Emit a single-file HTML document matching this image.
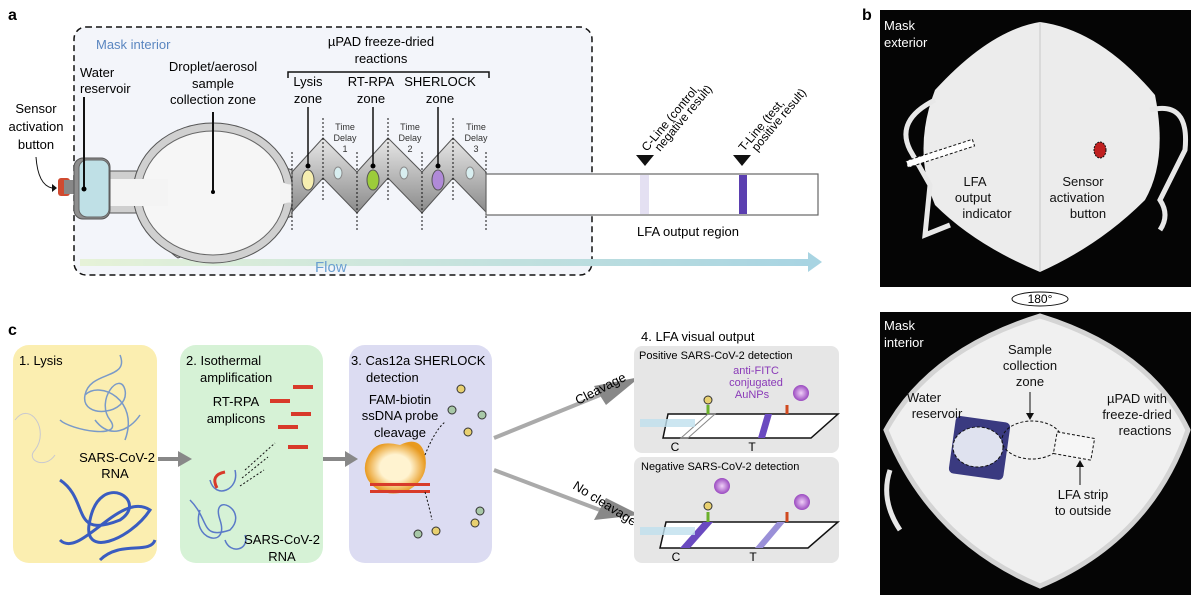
<!DOCTYPE html>
<html><head><meta charset="utf-8"><style>
html,body{margin:0;padding:0;background:#fff;}
svg{display:block;font-family:"Liberation Sans",sans-serif;}
</style></head><body>
<svg width="1200" height="607" viewBox="0 0 1200 607" xmlns="http://www.w3.org/2000/svg">
<defs>
<linearGradient id="flow" x1="0" x2="1"><stop offset="0" stop-color="#e6f2d8"/><stop offset="1" stop-color="#a8d4e2"/></linearGradient>
<linearGradient id="zz" x1="0" y1="0" x2="0" y2="1"><stop offset="0" stop-color="#e8e8e8"/><stop offset="1" stop-color="#8a8a8a"/></linearGradient>
<radialGradient id="np"><stop offset="0" stop-color="#f0d0f8"/><stop offset="1" stop-color="#9a4ac0"/></radialGradient>
<radialGradient id="cas"><stop offset="0.5" stop-color="#fff3d0"/><stop offset="1" stop-color="#e89a20"/></radialGradient>
</defs>

<!-- Panel a -->
<text x="8" y="20" font-size="16" font-weight="bold">a</text>
<rect x="74" y="27" width="518" height="248" rx="12" fill="#f3f5fa" stroke="#111" stroke-width="1.5" stroke-dasharray="6,4"/>
<rect x="80" y="259" width="730" height="7" fill="url(#flow)"/>
<polygon points="808,252 822,262 808,272" fill="#a8d4e2"/>
<text x="315" y="272" font-size="15" fill="#6a9fd0">Flow</text>
<text x="96" y="49" font-size="13" fill="#5a86c0">Mask interior</text>
<text x="80" y="77" font-size="13">Water</text>
<text x="80" y="93" font-size="13">reservoir</text>
<text x="36" y="113" font-size="13" text-anchor="middle">Sensor</text>
<text x="36" y="131" font-size="13" text-anchor="middle">activation</text>
<text x="36" y="149" font-size="13" text-anchor="middle">button</text>
<path d="M36,157 Q38,185 52,188" fill="none" stroke="#111" stroke-width="1"/>
<polygon points="52,184 57,188 52,192" fill="#111"/>
<text x="213" y="71" font-size="13" text-anchor="middle">Droplet/aerosol</text>
<text x="213" y="88" font-size="13" text-anchor="middle">sample</text>
<text x="213" y="104" font-size="13" text-anchor="middle">collection zone</text>
<text x="381" y="46" font-size="13" text-anchor="middle">µPAD freeze-dried</text>
<text x="381" y="63" font-size="13" text-anchor="middle">reactions</text>
<path d="M288,78 V72 H489 V78" fill="none" stroke="#111" stroke-width="1.5"/>
<text x="308" y="86" font-size="13" text-anchor="middle">Lysis</text>
<text x="308" y="103" font-size="13" text-anchor="middle">zone</text>
<text x="371" y="86" font-size="13" text-anchor="middle">RT-RPA</text>
<text x="371" y="103" font-size="13" text-anchor="middle">zone</text>
<text x="440" y="86" font-size="13" text-anchor="middle">SHERLOCK</text>
<text x="440" y="103" font-size="13" text-anchor="middle">zone</text>
<g font-size="9" text-anchor="middle" fill="#333">
<text x="345" y="130">Time</text><text x="345" y="141">Delay</text><text x="345" y="152">1</text>
<text x="410" y="130">Time</text><text x="410" y="141">Delay</text><text x="410" y="152">2</text>
<text x="476" y="130">Time</text><text x="476" y="141">Delay</text><text x="476" y="152">3</text>
</g>
<!-- device -->
<rect x="58" y="178" width="12" height="18" rx="3" fill="#d04a30"/>
<rect x="64" y="180" width="10" height="14" fill="#888"/>
<path d="M108,171 H153 Q160,145 178,130 L292,170 L292,216 L178,258 Q158,245 153,213 H108 Z" fill="#cfcfcf" stroke="#555" stroke-width="1"/>
<ellipse cx="213" cy="193" rx="80" ry="70" fill="#d0d0d0" stroke="#555"/>
<ellipse cx="213" cy="193" rx="72" ry="62" fill="#f6f6f6" stroke="#666"/>
<rect x="108" y="179" width="60" height="27" fill="#f4f4f4"/>
<path d="M280,180 Q286,186 296,184 V204 Q286,200 280,207 Z" fill="#f4f4f4"/>
<rect x="74" y="158" width="36" height="61" rx="9" fill="#8e8e8e" stroke="#555"/>
<rect x="79" y="160" width="30" height="57" rx="8" fill="#bfe0e6" stroke="#666"/>
<line x1="84" y1="97" x2="84" y2="189" stroke="#111" stroke-width="2"/><circle cx="84" cy="189" r="2.5"/>
<line x1="213" y1="112" x2="213" y2="192" stroke="#111" stroke-width="2"/><circle cx="213" cy="192" r="2"/>
<polygon points="292,172 323,138 357,172 388,138 422,172 453,138 486,172 486,212 453,178 422,213 388,178 357,213 323,178 292,212" fill="url(#zz)" stroke="#555"/>
<g stroke="#111" stroke-dasharray="2,2" stroke-width="1">
<line x1="292" y1="152" x2="292" y2="232"/><line x1="323" y1="118" x2="323" y2="200"/>
<line x1="357" y1="152" x2="357" y2="232"/><line x1="388" y1="118" x2="388" y2="200"/>
<line x1="422" y1="152" x2="422" y2="232"/><line x1="453" y1="118" x2="453" y2="200"/>
<line x1="486" y1="152" x2="486" y2="232"/></g>
<ellipse cx="308" cy="180" rx="6" ry="10" fill="#f6eeb0" stroke="#555"/>
<ellipse cx="338" cy="173" rx="4" ry="6" fill="#d8eef0" stroke="#888"/>
<ellipse cx="373" cy="180" rx="6" ry="10" fill="#9ccc3a" stroke="#555"/>
<ellipse cx="404" cy="173" rx="4" ry="6" fill="#d8eef0" stroke="#888"/>
<ellipse cx="438" cy="180" rx="6" ry="10" fill="#b08ad8" stroke="#555"/>
<ellipse cx="470" cy="173" rx="4" ry="6" fill="#d8eef0" stroke="#888"/>
<g stroke="#111" stroke-width="1.5"><line x1="308" y1="107" x2="308" y2="166"/><line x1="373" y1="107" x2="373" y2="166"/><line x1="438" y1="107" x2="438" y2="166"/></g>
<circle cx="308" cy="166" r="2.5"/><circle cx="373" cy="166" r="2.5"/><circle cx="438" cy="166" r="2.5"/>
<rect x="486" y="174" width="332" height="41" fill="#fff" stroke="#666" stroke-width="1.2"/>
<rect x="640" y="175" width="9" height="39" fill="#e4e0f2"/>
<rect x="739" y="175" width="8" height="39" fill="#5b3fb0"/>
<polygon points="636,155 654,155 645,166" fill="#111"/>
<polygon points="733,155 751,155 742,166" fill="#111"/>
<text transform="translate(647,152) rotate(-50)" font-size="12">C-Line (control,</text>
<text transform="translate(660,152) rotate(-50)" font-size="12">negative result)</text>
<text transform="translate(744,152) rotate(-50)" font-size="12">T-Line (test,</text>
<text transform="translate(757,152) rotate(-50)" font-size="12">positive result)</text>
<text x="688" y="236" font-size="13" text-anchor="middle">LFA output region</text>

<!-- Panel b -->
<text x="862" y="20" font-size="16" font-weight="bold">b</text>
<rect x="880" y="10" width="311" height="277" fill="#050505"/>
<path d="M935,90 Q990,30 1040,22 Q1100,30 1155,95 Q1168,160 1145,200 Q1100,245 1040,272 Q975,245 935,205 Q912,150 935,90 Z" fill="#ececec"/>
<path d="M1040,22 L1040,272" stroke="#c8c8c8"/>
<path d="M935,100 Q895,120 910,150 L930,185 L925,235 L950,225" fill="none" stroke="#e8e8e8" stroke-width="5"/>
<path d="M1150,110 Q1190,100 1185,150 L1160,200 Q1170,215 1160,230" fill="none" stroke="#e8e8e8" stroke-width="5"/>
<rect x="905" y="150" width="70" height="7" fill="#fff" stroke="#111" stroke-dasharray="3,2" transform="rotate(-18 940 153)"/>
<ellipse cx="1100" cy="150" rx="6" ry="8" fill="#c02020" stroke="#111" stroke-dasharray="2,1"/>
<text x="884" y="30" font-size="13" fill="#fff">Mask</text>
<text x="884" y="47" font-size="13" fill="#fff">exterior</text>
<g font-size="13" text-anchor="middle" fill="#111">
<text x="975" y="186">LFA</text><text x="973" y="202">output</text><text x="987" y="218">indicator</text>
<text x="1083" y="186">Sensor</text><text x="1077" y="202">activation</text><text x="1088" y="218">button</text></g>
<text x="1040" y="303" font-size="12" text-anchor="middle">180°</text>
<ellipse cx="1040" cy="299" rx="28" ry="7" fill="none" stroke="#111"/>
<rect x="880" y="312" width="311" height="283" fill="#050505"/>
<path d="M886,430 Q930,350 1040,316 Q1150,350 1188,430 Q1150,540 1040,586 Q930,540 886,430 Z" fill="#f0f0f0" stroke="#d4d4d4" stroke-width="5"/>
<path d="M890,470 Q880,500 900,530" fill="none" stroke="#e8e8e8" stroke-width="5"/>
<rect x="952" y="419" width="55" height="58" rx="5" fill="#3a3a80" transform="rotate(8 980 448)"/>
<ellipse cx="978" cy="447" rx="25" ry="20" fill="#dfe2ef" stroke="#111" stroke-dasharray="3,2"/>
<ellipse cx="1032" cy="440" rx="30" ry="19" fill="none" stroke="#111" stroke-dasharray="3,2"/>
<rect x="1055" y="435" width="38" height="22" fill="#f6f6f6" stroke="#111" stroke-dasharray="3,2" transform="rotate(10 1074 446)"/>
<text x="884" y="330" font-size="13" fill="#fff">Mask</text>
<text x="884" y="347" font-size="13" fill="#fff">interior</text>
<g font-size="13" text-anchor="middle" fill="#111">
<text x="1030" y="354">Sample</text><text x="1030" y="370">collection</text><text x="1030" y="386">zone</text>
<text x="924" y="402">Water</text><text x="937" y="418">reservoir</text>
<text x="1137" y="403">µPAD with</text><text x="1137" y="419">freeze-dried</text><text x="1145" y="435">reactions</text>
<text x="1083" y="499">LFA strip</text><text x="1083" y="515">to outside</text></g>
<path d="M1030,392 V415" stroke="#111"/><polygon points="1026,413 1034,413 1030,420" fill="#111"/>
<path d="M1080,485 V465" stroke="#111"/><polygon points="1076,467 1084,467 1080,460" fill="#111"/>

<!-- Panel c -->
<text x="8" y="335" font-size="16" font-weight="bold">c</text>
<rect x="13" y="345" width="144" height="218" rx="16" fill="#fbeeb0"/>
<rect x="180" y="345" width="143" height="218" rx="16" fill="#d6f2d6"/>
<rect x="349" y="345" width="143" height="218" rx="16" fill="#dcdcf2"/>
<path d="M158,459 H180" stroke="#888" stroke-width="4"/><polygon points="178,451 192,459 178,467" fill="#888"/>
<path d="M323,459 H347" stroke="#888" stroke-width="4"/><polygon points="345,451 358,459 345,467" fill="#888"/>
<g fill="none" stroke="#7a9ac8" stroke-width="1.5"><path d="M120,355 C130,380 90,370 85,395 C80,420 130,415 125,390 C120,370 95,400 110,420 C125,440 70,430 60,420 M85,395 C100,380 140,400 125,440 M95,420 C110,440 130,430 140,415"/></g>
<g fill="none" stroke="#c8c8d0" stroke-width="1"><path d="M15,420 C30,400 50,430 35,450 C25,460 45,470 55,455"/></g>
<g fill="none" stroke="#3a5cc0" stroke-width="3"><path d="M60,480 C90,500 70,540 120,520 C150,500 100,470 90,520 C80,560 130,540 150,510 C120,490 80,560 60,540 M100,560 C120,540 150,555 155,540"/></g>
<g fill="none" stroke="#5a7ac8" stroke-width="1.5"><path d="M190,500 C210,520 200,540 230,530 C250,510 210,490 220,520 C230,550 190,540 200,510 M210,480 C215,500 240,490 235,470 M225,540 C230,555 250,550 245,535"/></g>
<path d="M217,488 Q210,475 225,472" fill="none" stroke="#d83a2a" stroke-width="3"/>
<g font-size="13">
<text x="19" y="365">1. Lysis</text>
<text x="155" y="462" text-anchor="end">SARS-CoV-2</text><text x="115" y="478" text-anchor="middle">RNA</text>
<text x="186" y="365">2. Isothermal</text><text x="200" y="382">amplification</text>
<text x="236" y="406" text-anchor="middle">RT-RPA</text><text x="236" y="423" text-anchor="middle">amplicons</text>
<text x="320" y="544" text-anchor="end">SARS-CoV-2</text><text x="282" y="561" text-anchor="middle">RNA</text>
<text x="351" y="365">3. Cas12a SHERLOCK</text><text x="366" y="382">detection</text>
<text x="400" y="404" text-anchor="middle">FAM-biotin</text><text x="400" y="420" text-anchor="middle">ssDNA probe</text><text x="400" y="437" text-anchor="middle">cleavage</text>
</g>
<g fill="#d83a2a"><rect x="293" y="385" width="20" height="4"/><rect x="270" y="399" width="20" height="4"/><rect x="291" y="412" width="20" height="4"/><rect x="278" y="425" width="20" height="4"/><rect x="288" y="445" width="20" height="4"/></g>
<g stroke="#111" stroke-dasharray="2,2"><line x1="245" y1="470" x2="275" y2="443"/><line x1="242" y1="478" x2="268" y2="457"/><line x1="240" y1="486" x2="264" y2="470"/></g>
<path d="M372,450 Q380,440 400,445 Q420,435 425,455 Q430,480 405,492 Q380,498 368,480 Q360,465 372,450 Z" fill="url(#cas)"/>
<rect x="370" y="483" width="60" height="3" fill="#d83a2a"/><rect x="370" y="490" width="60" height="3" fill="#d83a2a"/>
<path d="M425,455 Q435,430 445,422" fill="none" stroke="#111" stroke-dasharray="2,2"/>
<path d="M425,492 Q430,510 432,520" fill="none" stroke="#111" stroke-dasharray="2,2"/>
<g fill="#a8c8a8" stroke="#333"><circle cx="452" cy="410" r="4"/><circle cx="482" cy="415" r="4"/><circle cx="480" cy="511" r="4"/><circle cx="418" cy="534" r="4"/></g>
<g fill="#e8d070" stroke="#333"><circle cx="461" cy="389" r="4"/><circle cx="468" cy="432" r="4"/><circle cx="475" cy="523" r="4"/><circle cx="436" cy="531" r="4"/></g>
<!-- arrows to panel 4 -->
<path d="M494,438 L600,395" stroke="#aaa" stroke-width="4"/><polygon points="594,386 640,377 606,405" fill="#888"/>
<path d="M494,470 L600,510" stroke="#aaa" stroke-width="4"/><polygon points="606,498 640,515 594,520" fill="#888"/>
<text transform="translate(578,405) rotate(-27)" font-size="13">Cleavage</text>
<text transform="translate(572,488) rotate(32)" font-size="13">No cleavage</text>
<text x="641" y="341" font-size="13">4. LFA visual output</text>
<rect x="634" y="346" width="205" height="107" rx="8" fill="#e6e6e6"/>
<rect x="634" y="457" width="205" height="106" rx="8" fill="#e6e6e6"/>
<text x="639" y="359" font-size="11">Positive SARS-CoV-2 detection</text>
<text x="641" y="470" font-size="11">Negative SARS-CoV-2 detection</text>
<text x="756" y="374" font-size="11" fill="#8a3ab8" text-anchor="middle">anti-FITC</text>
<text x="756" y="386" font-size="11" fill="#8a3ab8" text-anchor="middle">conjugated</text>
<text x="752" y="398" font-size="11" fill="#8a3ab8" text-anchor="middle">AuNPs</text>
<polygon points="663,438 668,414 838,414 811,438" fill="#fff" stroke="#111" stroke-width="1.5"/>
<polygon points="758,438 765,414 772,414 765,438" fill="#6a4ac0"/>
<polygon points="681,438 708,414 715,414 688,438" fill="none" stroke="#888"/>
<polygon points="660,548 666,522 838,522 808,548" fill="#fff" stroke="#111" stroke-width="1.5"/>
<polygon points="680,548 703,522 713,522 690,548" fill="#6a4ac0"/>
<polygon points="755,548 777,522 785,522 763,548" fill="#9a90d8"/>
<rect x="640" y="419" width="55" height="8" fill="#bfe0ee" opacity="0.8"/>
<rect x="640" y="527" width="55" height="8" fill="#bfe0ee" opacity="0.8"/>
<text x="675" y="451" font-size="12" text-anchor="middle">C</text><text x="752" y="451" font-size="12" text-anchor="middle">T</text>
<text x="676" y="561" font-size="12" text-anchor="middle">C</text><text x="753" y="561" font-size="12" text-anchor="middle">T</text>
<circle cx="801" cy="393" r="8" fill="url(#np)"/><circle cx="722" cy="486" r="8" fill="url(#np)"/><circle cx="802" cy="502" r="8" fill="url(#np)"/>
<path d="M708,414 V405" stroke="#6ab02a" stroke-width="3"/><path d="M787,414 V405" stroke="#d04a20" stroke-width="3"/>
<path d="M708,522 V512" stroke="#6ab02a" stroke-width="3"/><path d="M787,522 V512" stroke="#d04a20" stroke-width="3"/>
<circle cx="708" cy="400" r="4" fill="#e8d070" stroke="#333"/><circle cx="708" cy="506" r="4" fill="#e8d070" stroke="#333"/>
</svg>
</body></html>
